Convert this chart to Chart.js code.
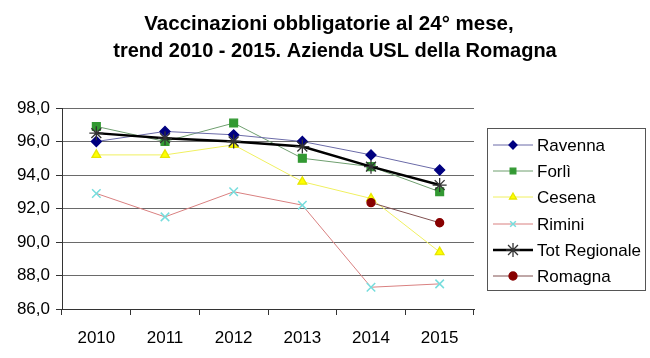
<!DOCTYPE html>
<html><head><meta charset="utf-8">
<script src="https://cdn.jsdelivr.net/npm/chart.js@4/dist/chart.umd.min.js"></script>
<style>html,body{margin:0;padding:0;background:#fff}#w{width:650px;height:358px}</style>
</head><body><div id="w"><canvas id="c"></canvas></div>
<script>
const categories = ['2010','2011','2012','2013','2014','2015'];
const ravenna = [96.0, 96.6, 96.4, 96.0, 95.2, 94.3];
const forli = [96.9, 96.0, 97.1, 95.0, 94.5, 93.0];
const cesena = [95.2, 95.2, 95.8, 93.6, 92.6, 89.4];
const rimini = [92.9, 91.5, 93.0, 92.2, 87.3, 87.5];
const totRegionale = [96.5, 96.2, 96.0, 95.7, 94.5, 93.4];
const romagna = [null, null, null, null, 92.35, 91.15];
const yTicks = [86, 88, 90, 92, 94, 96, 98];
const titleLines = ['Vaccinazioni obbligatorie al 24° mese,', 'trend 2010 - 2015. Azienda USL della Romagna'];

const FONT = "'Liberation Sans', Arial, sans-serif";

function ds(label, data, line, pColor, pBorder, style, radius, width, order){
  return {label, data, borderColor: line, borderWidth: width, backgroundColor: pColor,
    pointBackgroundColor: pColor, pointBorderColor: pBorder, pointStyle: style,
    pointRadius: radius, pointHoverRadius: radius, pointBorderWidth: 1.3, tension: 0, spanGaps: false, order};
}
const datasets = [
  ds('Ravenna', ravenna, '#6b6ba8', '#000080', '#000080', 'rectRot', 5, 1, 2),
  ds('Forlì', forli, '#6f9f6f', '#339933', '#339933', 'rect', 5.5, 1, 3),
  ds('Cesena', cesena, '#f0f060', '#ffff00', '#e6e600', 'triangle', 5, 1, 4),
  ds('Rimini', rimini, '#d98080', '#66cccc', '#77dddd', 'crossRot', 6, 1, 5),
  ds('Tot Regionale', totRegionale, '#000000', '#333333', '#333333', 'star', 7, 2.5, 1),
  ds('Romagna', romagna, '#805050', '#880000', '#880000', 'circle', 4, 1, 0)
];
datasets[3].pointBorderWidth = 1.5;

const legendPlugin = {
  id: 'boxLegend',
  afterDraw(chart){
    const ctx = chart.ctx;
    ctx.save();
    ctx.fillStyle = '#000';
    ctx.textAlign = 'center';
    ctx.textBaseline = 'middle';
    ctx.font = 'bold 20.5px ' + FONT;
    ctx.fillText(titleLines[0], 329, 24);
    ctx.font = 'bold 20px ' + FONT;
    ctx.fillText(titleLines[1], 335, 51);
    const bx = 487.5, by = 128.5, bw = 158, bh = 162;
    ctx.strokeStyle = '#555';
    ctx.lineWidth = 1;
    ctx.strokeRect(bx, by, bw, bh);
    const ys = [145, 171, 197, 224, 250, 276];
    ctx.font = '17px ' + FONT;
    ctx.textAlign = 'left';
    chart.data.datasets.forEach((d, i) => {
      const y = ys[i];
      ctx.beginPath();
      ctx.strokeStyle = d.borderColor;
      ctx.lineWidth = d.borderWidth;
      ctx.moveTo(493, y); ctx.lineTo(533, y);
      ctx.stroke();
      ctx.fillStyle = d.pointBackgroundColor;
      ctx.strokeStyle = d.pointBorderColor;
      ctx.lineWidth = d.pointBorderWidth;
      Chart.helpers.drawPoint(ctx, {pointStyle: d.pointStyle, radius: d.pointStyle==='star'?7:4, rotation: 0, borderWidth: d.pointBorderWidth}, 513, y);
      ctx.fillStyle = '#000';
      ctx.fillText(d.label, 537, y + 1);
    });
    ctx.restore();
  }
};

new Chart(document.getElementById('c'), {
  type: 'line',
  data: {labels: categories, datasets},
  options: {
    responsive: true, maintainAspectRatio: false, animation: false,
    layout: {padding: {top: 108, right: 176, left: 0, bottom: 0}},
    plugins: {legend: {display: false}, title: {display: false}, tooltip: {enabled: false}},
    scales: {
      x: {
        offset: true,
        grid: {offset: true, drawOnChartArea: false, color: '#333', tickLength: 6, tickColor: '#333'},
        border: {color: '#333', width: 1},
        ticks: {color: '#000', font: {family: FONT, size: 17}, padding: 13},
        afterFit(s){ s.height = 49; }
      },
      y: {
        min: 86, max: 98,
        afterBuildTicks(s){ s.ticks = yTicks.map(v => ({value: v})); },
        grid: {color: '#6a6a6a', tickLength: 6, tickColor: '#333', lineWidth: 1},
        border: {color: '#333', width: 1},
        ticks: {color: '#000', font: {family: FONT, size: 17}, padding: 6,
          callback: v => v.toFixed(1).replace('.', ',')},
        afterFit(s){ s.width = 62; }
      }
    }
  },
  plugins: [legendPlugin]
});
</script>
</body></html>
